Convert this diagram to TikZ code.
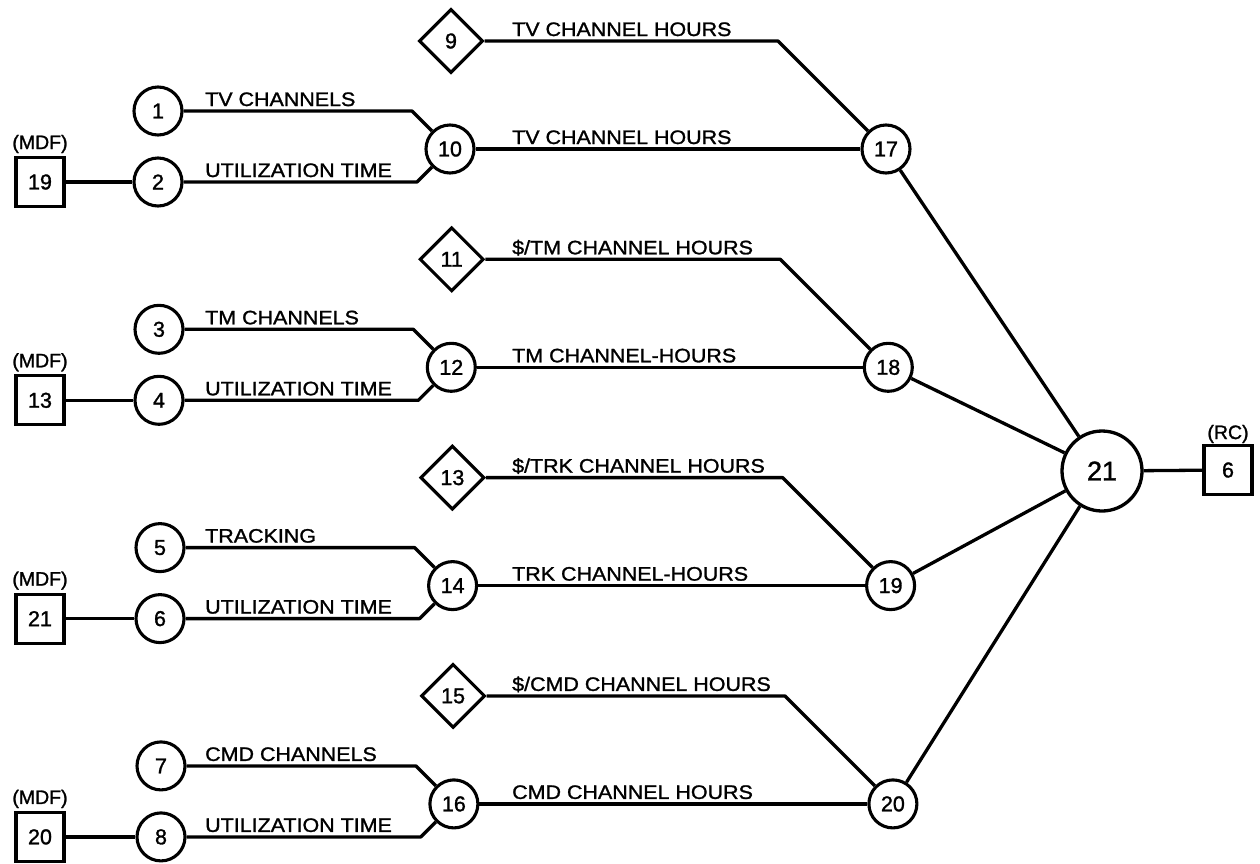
\documentclass[tikz,border=0pt]{standalone}
\usepackage{fontspec}
\setmainfont[FakeBold=1.3]{Liberation Sans}
\newfontfamily\lblfont[FakeStretch=1.1,FakeBold=1.3]{Liberation Sans}
\usetikzlibrary{shapes.geometric}
\begin{document}
\begin{tikzpicture}[x=1pt,y=-1pt,
  every node/.style={font=\fontsize{21.5}{23}\selectfont},
  conn/.style={line width=3.3pt, line join=round},
  numcirc/.style={circle, draw, line width=3.1pt, minimum size=48pt, inner sep=0pt},
  bigcirc/.style={circle, draw, line width=3.3pt, minimum size=80pt, inner sep=0pt,
    font=\fontsize{27}{29}\selectfont},
  numbox/.style={rectangle, draw, line width=3.1pt, minimum width=48pt, minimum height=49pt, inner sep=0pt},
  numdia/.style={diamond, draw, line width=3.1pt, minimum width=64pt, minimum height=64pt, inner sep=0pt},
  lbl/.style={anchor=base west, inner sep=0pt, font=\lblfont\fontsize{19.5}{21}\selectfont},
  tag/.style={inner sep=0pt, font=\fontsize{19.5}{21}\selectfont}]
\useasboundingbox (0,0) rectangle (1260,863);

% output node and report
\node[bigcirc] (n21) at (1102,471) {21};
\node[numbox] (b6) at (1228,470) {6};
\node[tag] (t6) at (1228,434) {(RC)};
\draw[conn] (n21) -- (b6);

% four identical input chains
\foreach \k/\ct/\cb/\hub/\dia/\rn/\bx/\la/\lb/\lc/\ld in {%
  0/1/2/10/9/17/19/{TV CHANNELS}/{UTILIZATION TIME}/{TV CHANNEL HOURS}/{TV CHANNEL HOURS},
  1/3/4/12/11/18/13/{TM CHANNELS}/{UTILIZATION TIME}/{\$/TM CHANNEL HOURS}/{TM CHANNEL-HOURS},
  2/5/6/14/13/19/21/{TRACKING}/{UTILIZATION TIME}/{\$/TRK CHANNEL HOURS}/{TRK CHANNEL-HOURS},
  3/7/8/16/15/20/20/{CMD CHANNELS}/{UTILIZATION TIME}/{\$/CMD CHANNEL HOURS}/{CMD CHANNEL HOURS}}{
  \pgfmathsetmacro\yt{111+218.3*\k}
  \pgfmathsetmacro\yb{\yt+71}
  \pgfmathsetmacro\yh{\yt+38}
  \pgfmathsetmacro\yd{\yt-70}
  \pgfmathsetmacro\xc{158+1*\k}
  \pgfmathsetmacro\xh{450+1.3*\k}
  \pgfmathsetmacro\xd{451+0.7*\k}
  \pgfmathsetmacro\xr{886+2.3*\k}
  \pgfmathsetmacro\xta{\xh-38}
  \pgfmathsetmacro\xtb{\xh-33}
  \pgfmathsetmacro\xtr{\xr-108}
  \node[numcirc] (c\ct) at (\xc,\yt) {\ct};
  \node[numcirc] (c\cb) at (\xc,\yb) {\cb};
  \node[numcirc] (h\hub) at (\xh,\yh) {\hub};
  \node[numdia] (d\dia) at (\xd,\yd) {\dia};
  \node[numcirc] (r\rn) at (\xr,\yh) {\rn};
  \node[numbox] (b\bx) at (40,\yb) {\bx};
  \node[tag] (m\bx) at (40,\yb-38) {(MDF)};
  \coordinate (ka\k) at (\xta,\yt);
  \coordinate (kb\k) at (\xtb,\yb);
  \coordinate (kd\k) at (\xtr,\yd);
  \draw[conn] (c\ct) -- (ka\k) -- (h\hub.135);
  \draw[conn] (c\cb) -- (kb\k) -- (h\hub.225);
  \draw[conn] (b\bx) -- (c\cb);
  \draw[conn] (h\hub) -- (r\rn);
  \draw[conn] (d\dia) -- (kd\k) -- (r\rn.135);
  \draw[conn] (r\rn) -- (n21);
  \node[lbl] (la\k) at (205,\yt-5) {\la};
  \node[lbl] (lb\k) at (205,\yb-5) {\lb};
  \node[lbl] (lc\k) at (512,\yd-5) {\lc};
  \node[lbl] (ld\k) at (512,\yh-5) {\ld};
}
\end{tikzpicture}
\end{document}
